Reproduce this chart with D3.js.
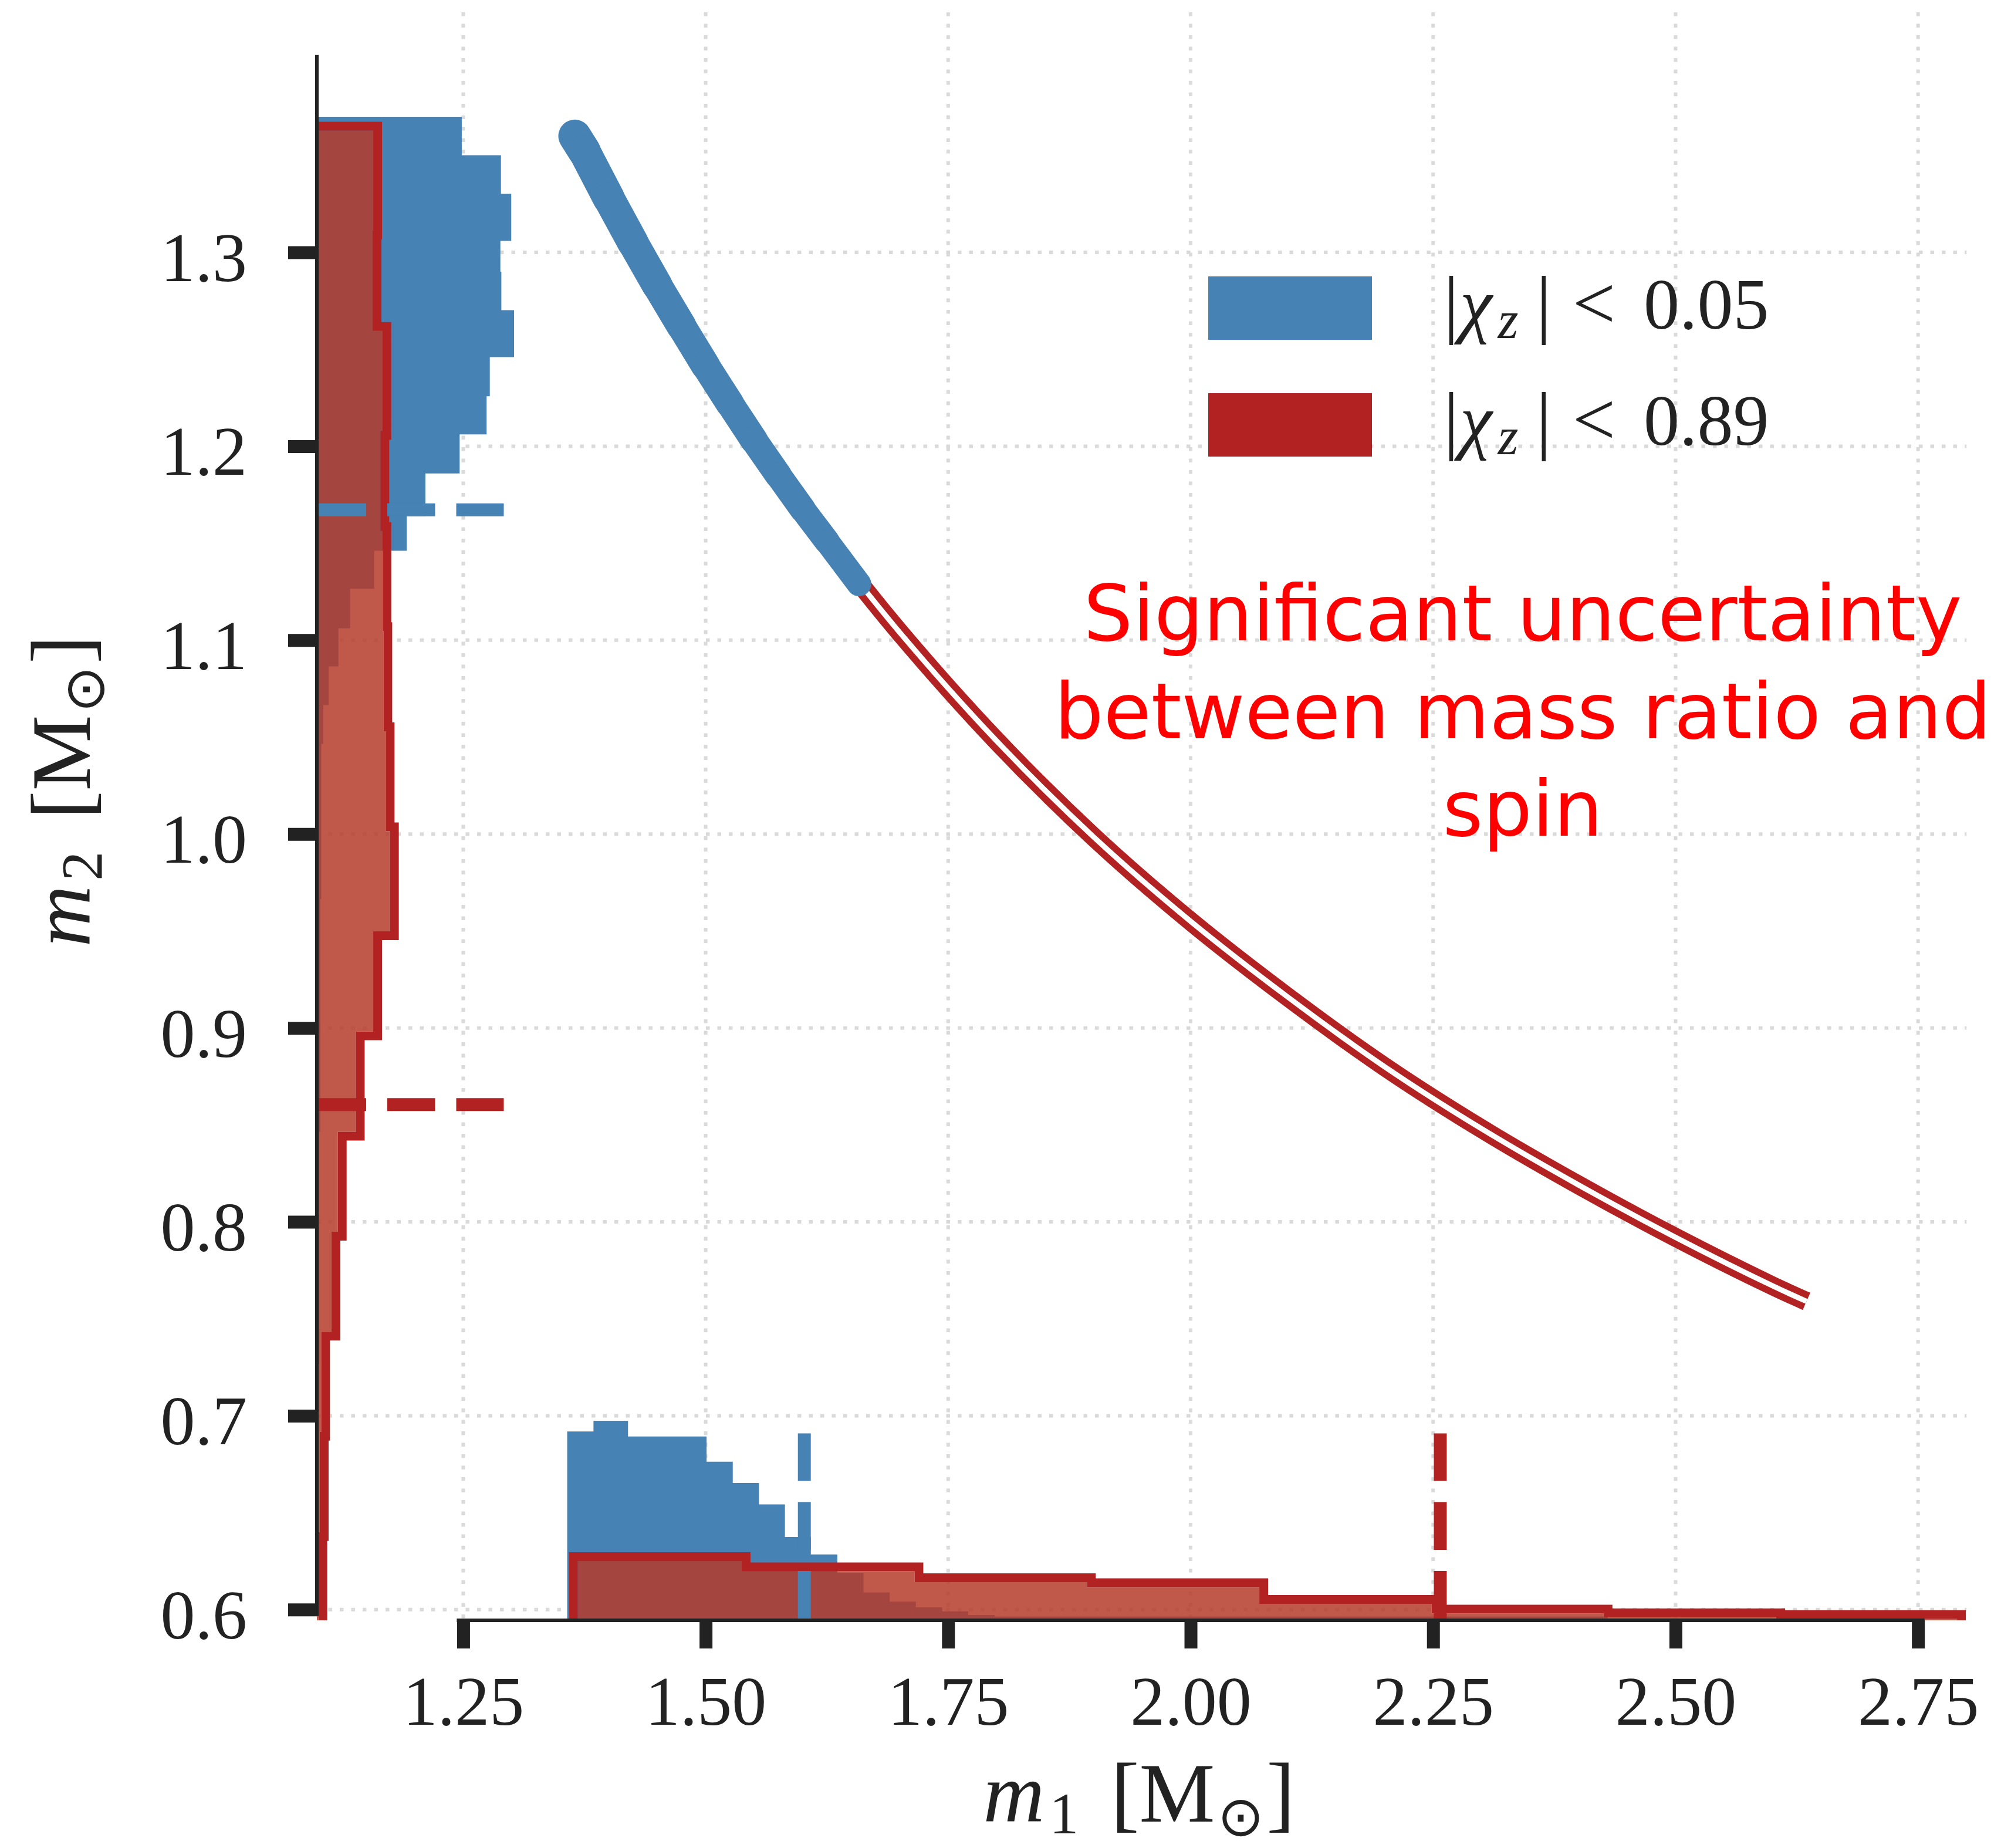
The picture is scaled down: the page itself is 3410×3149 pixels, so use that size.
<!DOCTYPE html>
<html><head><meta charset="utf-8">
<script src="https://cdn.jsdelivr.net/npm/d3@7/dist/d3.min.js"></script>
<style>html,body{margin:0;padding:0;background:#fff;} svg{display:block}</style>
</head><body>
<svg id="chart" width="3410" height="3149"></svg>
<script>
// ---------------- data ----------------
const m1TickValues = [1.25, 1.50, 1.75, 2.00, 2.25, 2.50, 2.75];
const m1TickLabels = ["1.25", "1.50", "1.75", "2.00", "2.25", "2.50", "2.75"];
const m2TickValues = [0.6, 0.7, 0.8, 0.9, 1.0, 1.1, 1.2, 1.3];
const m2TickLabels = ["0.6", "0.7", "0.8", "0.9", "1.0", "1.1", "1.2", "1.3"];
const m1Domain = [1.0991, 2.80];
const m2Domain = [0.5945, 1.4238];

// marginal histogram of m2 (drawn along the left axis), lengths in m1 units
const blueM2Edges = [1.3699, 1.3501, 1.3302, 1.3059, 1.2900, 1.2702, 1.2460, 1.2258, 1.2061, 1.1860,
  1.1640, 1.1461, 1.1265, 1.1061, 1.0865, 1.0665, 1.0465, 0.9665, 0.8465, 0.7265, 0.6465];
const blueM2Lengths = [0.1494, 0.1898, 0.2004, 0.1892, 0.1902, 0.2033, 0.1783, 0.1750, 0.1472, 0.1119,
  0.0926, 0.0591, 0.0343, 0.0222, 0.0121, 0.0067, 0.0045, 0.0035, 0.0025, 0.0015];
const redM2Edges = [1.3628, 1.3112, 1.2595, 1.2079, 1.1563, 1.1047, 1.0530, 1.0014, 0.9498, 0.8982,
  0.8465, 0.7949, 0.7433, 0.6917, 0.6400, 0.5884];
const redM2Lengths = [0.0581, 0.0575, 0.0676, 0.0655, 0.0676, 0.0686, 0.0710, 0.0754, 0.0581, 0.0402,
  0.0216, 0.0151, 0.0044, 0.0030, 0.0016];

// marginal histogram of m1 (drawn along the bottom axis), heights in m2 units
const blueM1Edges = [1.3572, 1.3843, 1.4199, 1.5009, 1.5279, 1.5549, 1.5817, 1.6084, 1.6357, 1.6627,
  1.6897, 1.7167, 1.7438, 1.7707, 1.7979, 2.4300, 2.6000];
const blueM1Heights = [0.0974, 0.1029, 0.0948, 0.0818, 0.0708, 0.0598, 0.0430, 0.0340, 0.0245, 0.0144,
  0.0097, 0.0067, 0.0046, 0.0027, 0.0020, 0.0010];
const redM1Edges = [1.3681, 1.5371, 1.7153, 1.8931, 2.0708, 2.2485, 2.4258, 2.6038, 2.7902];
const redM1Heights = [0.0306, 0.0253, 0.0197, 0.0171, 0.0085, 0.0035, 0.0016, 0.0007];

// medians (dashed markers)
const medianM2 = [1.1672, 0.8605];   // blue, red
const medianM1 = [1.6017, 2.2574];   // blue, red

// samples band (m1, m2)
const blueCurveM1 = [1.365, 1.375, 1.400, 1.425, 1.450, 1.475, 1.500, 1.525, 1.550, 1.575, 1.600, 1.625, 1.658];
const blueCurveM2 = [1.360, 1.352, 1.328, 1.305, 1.283, 1.262, 1.2415, 1.222, 1.203, 1.185, 1.1675, 1.151, 1.129];
const redCurveM1 = [1.62, 1.70, 1.80, 1.90, 2.00, 2.10, 2.20, 2.30, 2.40, 2.50, 2.60, 2.635];
const redCurveM2 = [1.154, 1.104, 1.048, 0.9985, 0.955, 0.916, 0.880, 0.848, 0.819, 0.792, 0.767, 0.759];

const legendLabels = ["0.05", "0.89"];
const annotationLines = ["Significant uncertainty", "between mass ratio and", "spin"];

// ---------------- style ----------------
const W = 3410, H = 3149;
const plot = {left: 540, right: 3351.3, top: 21, bottom: 2761};
const BLUE = "#4682b4", RED = "#b22222", REDFILL = "rgb(181,60,42)", INK = "#222222";
const medianSpanM1 = 0.1927, medianSpanM2 = 0.0964;

const svg = d3.select("#chart");
const x = d3.scaleLinear().domain(m1Domain).range([plot.left, plot.right]);
const y = d3.scaleLinear().domain(m2Domain).range([plot.bottom, plot.top]);
const line = d3.line();

const defs = svg.append("defs");
defs.append("clipPath").attr("id", "plotclip").append("rect")
  .attr("x", plot.left).attr("y", plot.top)
  .attr("width", plot.right - plot.left).attr("height", plot.bottom - plot.top);

// grid
const grid = svg.append("g").attr("stroke", "#dadada").attr("stroke-width", 6).attr("stroke-dasharray", "6.5,13");
grid.selectAll("line.v").data(m1TickValues).join("line").attr("class", "v")
  .attr("x1", d => x(d)).attr("x2", d => x(d)).attr("y1", plot.top).attr("y2", plot.bottom);
grid.selectAll("line.h").data(m2TickValues).join("line").attr("class", "h")
  .attr("y1", d => y(d)).attr("y2", d => y(d)).attr("x1", plot.left).attr("x2", plot.right);

function leftHistPoints(edges, lens) {
  const x0 = m1Domain[0];
  const pts = [[x(x0), y(edges[0])]];
  lens.forEach((L, i) => { pts.push([x(x0 + L), y(edges[i])]); pts.push([x(x0 + L), y(edges[i + 1])]); });
  pts.push([x(x0), y(edges[edges.length - 1])]);
  return pts;
}
function bottomHistPoints(edges, hs) {
  const y0 = m2Domain[0];
  const pts = [[x(edges[0]), y(y0)]];
  hs.forEach((h, i) => { pts.push([x(edges[i]), y(y0 + h)]); pts.push([x(edges[i + 1]), y(y0 + h)]); });
  pts.push([x(edges[edges.length - 1]), y(y0)]);
  return pts;
}

const g = svg.append("g").attr("clip-path", "url(#plotclip)");

// blue histograms
g.append("path").attr("d", line(leftHistPoints(blueM2Edges, blueM2Lengths)) + "Z").attr("fill", BLUE);
g.append("path").attr("d", line(bottomHistPoints(blueM1Edges, blueM1Heights)) + "Z").attr("fill", BLUE);

// red histograms: translucent fill + outline drawn outside the fill
const redLeft = leftHistPoints(redM2Edges, redM2Lengths);
const redBottom = bottomHistPoints(redM1Edges, redM1Heights);
[["redLeftMask", redLeft], ["redBottomMask", redBottom]].forEach(([id, pts]) => {
  const m = defs.append("mask").attr("id", id).attr("maskUnits", "userSpaceOnUse")
    .attr("x", 0).attr("y", 0).attr("width", W).attr("height", H);
  m.append("rect").attr("width", W).attr("height", H).attr("fill", "white");
  m.append("path").attr("d", line(pts) + "Z").attr("fill", "black");
  g.append("path").attr("d", line(pts) + "Z").attr("fill", REDFILL).attr("fill-opacity", 0.85);
  g.append("path").attr("d", line(pts)).attr("fill", "none").attr("stroke", RED)
    .attr("stroke-width", 30).attr("stroke-linejoin", "miter").attr("mask", `url(#${id})`);
});

// median dashed markers
const dashColors = [BLUE, RED];
medianM2.forEach((v, i) => {
  g.append("line").attr("x1", x(m1Domain[0])).attr("x2", x(m1Domain[0] + medianSpanM1))
    .attr("y1", y(v)).attr("y2", y(v)).attr("stroke", dashColors[i]).attr("stroke-width", 22)
    .attr("stroke-dasharray", "81.5,36").attr("stroke-dashoffset", -2.5);
});
medianM1.forEach((v, i) => {
  g.append("line").attr("y1", y(m2Domain[0])).attr("y2", y(m2Domain[0] + medianSpanM2))
    .attr("x1", x(v)).attr("x2", x(v)).attr("stroke", dashColors[i]).attr("stroke-width", 22)
    .attr("stroke-dasharray", "81.5,36").attr("stroke-dashoffset", -2.5);
});

// sample bands
const curve = d3.line().x(d => x(d[0])).y(d => y(d[1])).curve(d3.curveCatmullRom);
const redPts = redCurveM1.map((v, i) => [v, redCurveM2[i]]);
const bluePts = blueCurveM1.map((v, i) => [v, blueCurveM2[i]]);
g.append("path").attr("d", curve(redPts)).attr("fill", "none").attr("stroke", RED).attr("stroke-width", 32);
g.append("path").attr("d", curve(redPts)).attr("fill", "none").attr("stroke", "#fff").attr("stroke-width", 9);
// blue band, slightly narrowing towards its lower end
const nSeg = bluePts.length - 1;
for (let i = 0; i < nSeg; i++) {
  const w = 56 - 14 * i / (nSeg - 1);
  g.append("path").attr("d", line([[x(bluePts[i][0]), y(bluePts[i][1])], [x(bluePts[i + 1][0]), y(bluePts[i + 1][1])]]))
    .attr("fill", "none").attr("stroke", BLUE).attr("stroke-width", w)
    .attr("stroke-linecap", "round").attr("stroke-linejoin", "round");
}

// axes
const yAxis = d3.axisLeft(y).tickValues(m2TickValues).tickFormat((d, i) => m2TickLabels[i])
  .tickSizeInner(49).tickSizeOuter(0).tickPadding(70);
const yg = svg.append("g").attr("transform", `translate(${plot.left},0)`).call(yAxis);
yg.select(".domain").remove();
yg.selectAll(".tick line").attr("stroke", INK).attr("stroke-width", 22);
yg.selectAll(".tick text").attr("fill", INK).attr("dy", "0.41em")
  .style("font-family", "'Liberation Serif', serif").style("font-size", "118px");

const xAxis = d3.axisBottom(x).tickValues(m1TickValues).tickFormat((d, i) => m1TickLabels[i])
  .tickSizeInner(48).tickSizeOuter(0).tickPadding(46);
const xg = svg.append("g").attr("transform", `translate(0,${plot.bottom})`).call(xAxis);
xg.select(".domain").remove();
xg.selectAll(".tick line").attr("stroke", INK).attr("stroke-width", 22);
xg.selectAll(".tick text").attr("fill", INK)
  .style("font-family", "'Liberation Serif', serif").style("font-size", "118px");

// trimmed spines
svg.append("line").attr("x1", plot.left).attr("x2", plot.left)
  .attr("y1", y(1.4) - 6).attr("y2", y(0.6) + 11).attr("stroke", INK).attr("stroke-width", 6);
svg.append("line").attr("y1", plot.bottom).attr("y2", plot.bottom)
  .attr("x1", x(1.25) - 11).attr("x2", x(2.75) + 11).attr("stroke", INK).attr("stroke-width", 6);

// axis labels
function massLabel(sel, sub) {
  sel.style("font-family", "'Liberation Serif', serif").style("font-size", "145px").attr("fill", INK)
    .attr("text-anchor", "middle");
  sel.append("tspan").style("font-style", "italic").text("m");
  sel.append("tspan").attr("dx", 8).attr("dy", 20).style("font-size", "100px").text(sub);
  sel.append("tspan").attr("dx", 55).attr("dy", -20).text("[M");
  sel.append("tspan").attr("dx", 4).attr("dy", 24).style("font-size", "95px")
    .style("font-family", "'DejaVu Sans', sans-serif").text("\u2299");
  sel.append("tspan").attr("dx", 4).attr("dy", -24).text("]");
}
massLabel(svg.append("text").attr("x", 1941).attr("y", 3104), "1");
massLabel(svg.append("text").attr("transform", "translate(153,1348) rotate(-90)"), "2");

// legend
const legendColors = [BLUE, RED];
const legendRectY = [471, 670];
const legendBase = [560, 758];
legendLabels.forEach((lab, i) => {
  svg.append("rect").attr("x", 2059).attr("y", legendRectY[i]).attr("width", 279).attr("height", 108)
    .attr("fill", legendColors[i]);
  const t = svg.append("text").attr("x", 2460).attr("y", legendBase[i]).attr("fill", INK)
    .style("font-family", "'Liberation Serif', serif").style("font-size", "118px");
  t.append("tspan").style("font-size", "130px").text("|");
  t.append("tspan").attr("dx", 2).style("font-style", "italic").style("font-size", "124px").text("\u03c7");
  t.append("tspan").attr("dx", 10).attr("dy", 16).style("font-style", "italic").style("font-size", "90px").text("z");
  t.append("tspan").attr("dx", 30).attr("dy", -16).style("font-size", "130px").text("|");
  t.append("tspan").attr("dx", 36).style("font-size", "130px").text("<");
  t.append("tspan").attr("dx", 48).style("font-size", "122px").text(lab);
});

// annotation
const ann = svg.append("text").attr("fill", "#ff0000").attr("text-anchor", "middle")
  .style("font-family", "'DejaVu Sans', sans-serif").style("font-size", "132px");
annotationLines.forEach((s, i) => {
  ann.append("tspan").attr("x", 2595).attr("y", 1091 + i * 166.5).text(s);
});
</script>
</body></html>
